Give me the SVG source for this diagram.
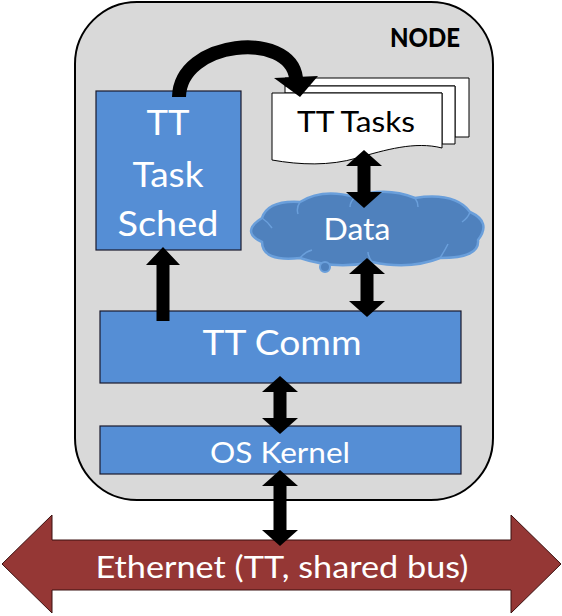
<svg xmlns="http://www.w3.org/2000/svg" width="562" height="616" viewBox="0 0 562 616">
<style>
text{font-family:Lato,"Open Sans","Liberation Sans",sans-serif;text-anchor:middle}
.w{fill:#fff}
.box{fill:#558ed5;stroke:#1a1a2e;stroke-width:1.2}
.arr{fill:#000}
.doc{fill:#fff;stroke:#000;stroke-width:1}
</style>
<rect width="562" height="616" fill="#fff"/>
<g id="node">
<rect x="75" y="2" width="418" height="498" rx="62" fill="#d9d9d9" stroke="#000" stroke-width="2"/>
<text x="425" y="47" font-size="26" font-weight="900" textLength="70" lengthAdjust="spacingAndGlyphs">NODE</text>
</g>
<g id="sched">
<rect class="box" x="96" y="91" width="145" height="159"/>
<text class="w" x="168" y="135" font-size="35" textLength="43" lengthAdjust="spacingAndGlyphs">TT</text>
<text class="w" x="168" y="187" font-size="35" textLength="71" lengthAdjust="spacingAndGlyphs">Task</text>
<text class="w" x="168" y="236" font-size="35" textLength="101" lengthAdjust="spacingAndGlyphs">Sched</text>
</g>
<g id="tasks">
<path class="doc" d="M285,78 H469 V137 H455 V86 H285 Z"/>
<path class="doc" d="M285,86 H455 V144 H442 V93 H285 Z"/>
<path class="doc" d="M272,93 H442 V148 C415,141 385,150 357,158 C330,166 300,165 272,160 Z"/>
<text x="356" y="132" font-size="28" textLength="118" lengthAdjust="spacingAndGlyphs">TT Tasks</text>
</g>
<g id="data">
<path d="M262,242 Q240,232 262,218 Q268,200 300,202 Q322,188 355,197 Q385,186 415,198 Q455,192 470,212 Q492,222 478,240 Q480,258 440,258 Q410,270 372,262 Q335,270 300,258 Q262,262 262,242 Z" fill="#4f81bd" stroke="#6a9fdb" stroke-width="2.5"/>
<path d="M300,202 Q296,208 298,214 M355,197 Q350,202 350,207 M415,198 Q418,202 418,207 M470,212 Q468,218 462,222 M440,258 Q445,250 448,244 M372,262 Q368,256 368,252 M300,258 Q305,252 312,250 M262,218 Q268,222 272,228" fill="none" stroke="#6a9fdb" stroke-width="1.5"/>
<circle cx="325" cy="267" r="5" fill="#4f81bd" stroke="#6a9fdb" stroke-width="2"/>
<text class="w" x="357" y="240" font-size="31" textLength="67" lengthAdjust="spacingAndGlyphs">Data</text>
</g>
<g id="comm">
<rect class="box" x="100" y="311" width="361" height="72"/>
<text class="w" x="282" y="355" font-size="35" textLength="159" lengthAdjust="spacingAndGlyphs">TT Comm</text>
</g>
<g id="kernel">
<rect class="box" x="100" y="426" width="361" height="48"/>
<text class="w" x="280" y="463" font-size="28" textLength="140" lengthAdjust="spacingAndGlyphs">OS Kernel</text>
</g>
<g id="ethernet">
<polygon points="2,564 52,515 52,540 511,540 511,515 561,564 511,613 511,590 52,590 52,613" fill="#953735" stroke="#3a1010" stroke-width="1"/>
<text class="w" x="282" y="578" font-size="30" textLength="373" lengthAdjust="spacingAndGlyphs">Ethernet (TT, shared bus)</text>
</g>
<g id="connectors">
<path d="M179,97 C180,40 290,30 296,78" fill="none" stroke="#000" stroke-width="14"/>
<polygon class="arr" points="274,78 318,76 300,97"/>
<polygon class="arr" points="364,150 382,166 370.5,166 370.5,192 382,192 364,208 346,192 357.5,192 357.5,166 346,166"/>
<polygon class="arr" points="367,258 385,274 373.5,274 373.5,301 385,301 367,317 349,301 360.5,301 360.5,274 349,274"/>
<polygon class="arr" points="280,376 298,392 286.5,392 286.5,418 298,418 280,434 262,418 273.5,418 273.5,392 262,392"/>
<polygon class="arr" points="280,470 298,486 286.5,486 286.5,530 298,530 280,546 262,530 273.5,530 273.5,486 262,486"/>
<polygon class="arr" points="163,247 180,265 169.5,265 169.5,321 156.5,321 156.5,265 146,265"/>
</g>
</svg>
